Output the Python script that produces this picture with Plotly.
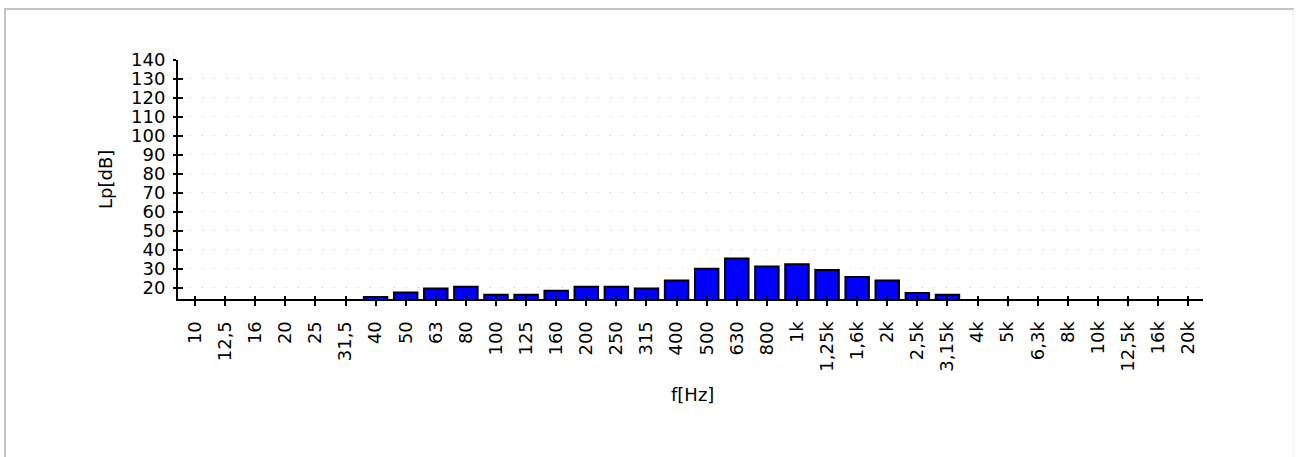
import plotly.graph_objects as go

# Data
freq_labels = ["10", "12,5", "16", "20", "25", "31,5", "40", "50", "63", "80",
               "100", "125", "160", "200", "250", "315", "400", "500", "630", "800",
               "1k", "1,25k", "1,6k", "2k", "2,5k", "3,15k", "4k", "5k", "6,3k", "8k",
               "10k", "12,5k", "16k", "20k"]
lp_values = [None, None, None, None, None, None, 15.1, 17.4, 19.5, 20.4,
             16.2, 16.2, 18.4, 20.4, 20.5, 19.5, 23.7, 30.0, 35.3, 31.1,
             32.3, 29.3, 25.6, 23.7, 17.2, 16.2, None, None, None, None,
             None, None, None, None]
y_ticks = [20, 30, 40, 50, 60, 70, 80, 90, 100, 110, 120, 130, 140]

W, H = 1296, 457
L, R, T, B = 178, 93, 60, 158
pw = W - L - R
ph = H - T - B

def px(x):
    return (x - L) / pw

def py(y):
    return (H - B - y) / ph

FONT = "DejaVu Sans, Verdana, sans-serif"
FS = 18
XR = [-0.565, 33.49]
YR = [14, 140]

fig = go.Figure()
fig.add_trace(go.Bar(
    x=freq_labels, y=lp_values,
    marker=dict(color="#0000ff", line=dict(color="#000000", width=2)),
    hoverinfo="x+y",
))
# invisible helper trace for the inner tick marks axes
fig.add_trace(go.Scatter(x=freq_labels, y=[None] * len(freq_labels),
                         xaxis="x2", yaxis="y2", hoverinfo="skip", showlegend=False))

fig.update_layout(
    width=W, height=H,
    margin=dict(l=L, r=R, t=T, b=B, pad=0),
    paper_bgcolor="white", plot_bgcolor="white",
    bargap=0.22,
    showlegend=False,
    font=dict(family=FONT, size=FS, color="#000000"),
    xaxis=dict(
        type="category", categoryorder="array", categoryarray=freq_labels,
        tickangle=-90, ticks="outside", ticklen=5, tickwidth=2, tickcolor="#000",
        showline=True, linewidth=2, linecolor="#000", showgrid=False,
        tickfont=dict(family=FONT, size=FS, color="#000"),
        ticklabelstandoff=8,
        range=XR, fixedrange=True,
    ),
    yaxis=dict(
        range=YR, tickvals=y_ticks, ticktext=[str(v) for v in y_ticks],
        ticks="outside", ticklen=3, tickwidth=2, tickcolor="#000",
        showline=True, linewidth=2, linecolor="#000",
        showgrid=True, gridcolor="#bdbdbd", gridwidth=1, griddash="1px,11px",
        zeroline=False,
        tickfont=dict(family=FONT, size=FS, color="#000"),
        ticklabelstandoff=4,
        fixedrange=True,
    ),
    xaxis2=dict(
        type="category", categoryorder="array", categoryarray=freq_labels,
        overlaying="x", side="bottom", anchor="y2",
        ticks="inside", ticklen=3, tickwidth=2, tickcolor="#000",
        showticklabels=False, showline=False, showgrid=False, zeroline=False,
        range=XR, fixedrange=True,
    ),
    yaxis2=dict(
        overlaying="y", side="left", anchor="x2",
        range=YR, tickvals=y_ticks,
        ticks="inside", ticklen=5, tickwidth=2, tickcolor="#000",
        showticklabels=False, showline=False, showgrid=False, zeroline=False,
        fixedrange=True,
    ),
    annotations=[
        dict(text="Lp[dB]", x=px(105), y=py(180), xref="paper", yref="paper",
             showarrow=False, textangle=-90, font=dict(family=FONT, size=FS, color="#000"),
             xanchor="center", yanchor="middle"),
        dict(text="f[Hz]", x=px(692), y=py(394), xref="paper", yref="paper",
             showarrow=False, font=dict(family=FONT, size=FS, color="#000"),
             xanchor="center", yanchor="middle"),
    ],
    shapes=[
        dict(type="line", xref="paper", yref="paper", x0=px(4), x1=px(1294), y0=py(9), y1=py(9),
             line=dict(color="#c4c4c4", width=2)),
        dict(type="line", xref="paper", yref="paper", x0=px(5), x1=px(5), y0=py(9), y1=py(470),
             line=dict(color="#c4c4c4", width=2)),
        dict(type="line", xref="paper", yref="paper", x0=px(1293), x1=px(1293), y0=py(9), y1=py(470),
             line=dict(color="#ececec", width=1)),
    ],
)

fig.write_html(
    "out.html",
    config={"displayModeBar": False},
    post_script="document.body.style.margin='0';document.body.style.overflow='hidden';",
)
